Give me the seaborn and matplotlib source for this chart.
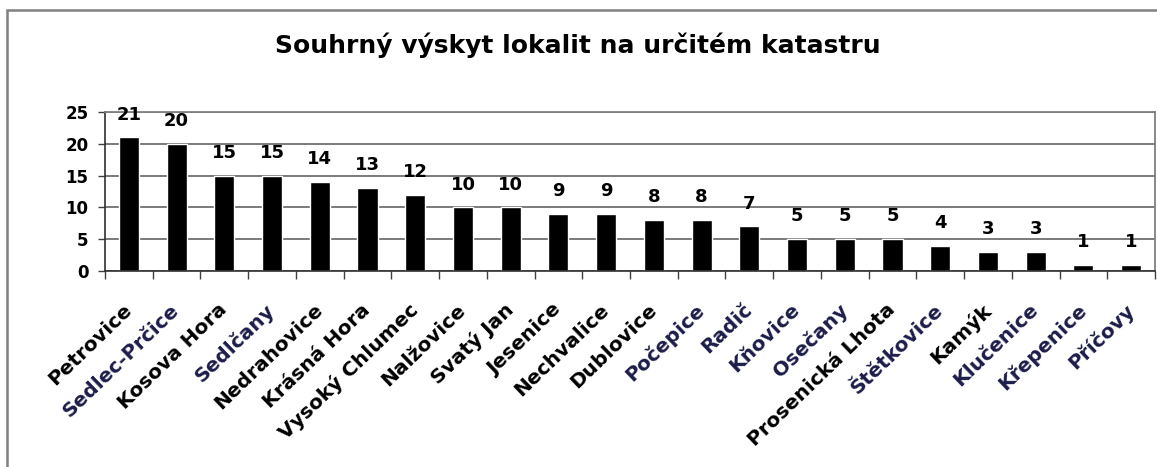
import numpy as np
import pandas as pd
import seaborn as sns
import matplotlib.pyplot as plt
from matplotlib.patches import Rectangle

# Data
localities = ["Petrovice", "Sedlec-Prčice", "Kosova Hora", "Sedlčany", "Nedrahovice",
              "Krásná Hora", "Vysoký Chlumec", "Nalžovice", "Svatý Jan", "Jesenice",
              "Nechvalice", "Dublovice", "Počepice", "Radič", "Kňovice", "Osečany",
              "Prosenická Lhota", "Štětkovice", "Kamýk", "Klučenice", "Křepenice", "Příčovy"]
counts = [21, 20, 15, 15, 14, 13, 12, 10, 10, 9, 9, 8, 8, 7, 5, 5, 5, 4, 3, 3, 1, 1]
# labels drawn in dark blue in the original
blue_labels = ["Sedlec-Prčice", "Sedlčany", "Počepice", "Radič", "Kňovice", "Osečany",
               "Štětkovice", "Klučenice", "Křepenice", "Příčovy"]
yticks = [0, 5, 10, 15, 20, 25]

df = pd.DataFrame({"lokalita": localities, "pocet": counts})

sns.set_theme(style="white")
plt.rcParams['font.family'] = ['DejaVu Sans']
plt.rcParams['text.color'] = 'black'
plt.rcParams['xtick.color'] = 'black'
plt.rcParams['ytick.color'] = 'black'

fig = plt.figure(figsize=(11.57, 4.67), dpi=100)
ax = fig.add_axes([105 / 1157, 1 - 271 / 467, 1050 / 1157, 159 / 467])

sns.barplot(data=df, x="lokalita", y="pocet", color="black", width=0.42,
            saturation=1, errorbar=None, ax=ax)
ax.bar_label(ax.containers[0], padding=10, fontsize=13, fontweight="bold", color="black")

n = len(localities)
ax.set_xlim(-0.5, n - 0.5)
ax.set_ylim(0, 25)
ax.set_yticks(yticks)
ax.set_yticklabels([str(t) for t in yticks], fontsize=12, fontweight="bold")
ax.yaxis.grid(True, color="#707070", linewidth=1.3)
ax.set_axisbelow(True)

# tick marks between categories
ax.set_xticks(np.arange(-0.5, n, 1), minor=True)
ax.tick_params(axis="x", which="minor", bottom=True, length=6, width=1, color="#404040")
ax.tick_params(axis="x", which="major", bottom=False, length=0, pad=26)
ax.tick_params(axis="y", which="major", left=True, length=5, width=1, color="#404040", pad=7)

for lab in ax.get_xticklabels():
    lab.set_rotation(44)
    lab.set_rotation_mode("anchor")
    lab.set_ha("right")
    lab.set_va("center")
    lab.set_fontsize(14.5)
    lab.set_fontweight("bold")
    lab.set_color("#1c1c4a" if lab.get_text() in blue_labels else "black")

for side in ["left", "bottom"]:
    ax.spines[side].set_color("#303030")
    ax.spines[side].set_linewidth(1.2)
for side in ["top", "right"]:
    ax.spines[side].set_color("#808080")
    ax.spines[side].set_linewidth(1.3)

ax.set_xlabel("")
ax.set_ylabel("")

fig.text(275 / 1157, 1 - 53 / 467, "Souhrný výskyt lokalit na určitém katastru",
         fontsize=18, fontweight="bold", ha="left", va="baseline", color="black")

# outer chart frame (runs off the right and bottom edges)
fig.patches.append(Rectangle((7 / 1157, -0.1), 1.2, 1.1 - 10 / 467, transform=fig.transFigure,
                             fill=False, edgecolor="#808080", linewidth=1.8))

fig.savefig("out.png", dpi=100)
